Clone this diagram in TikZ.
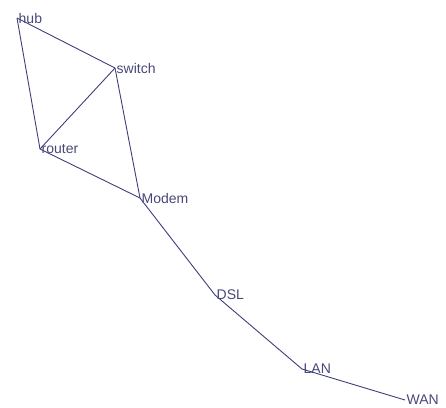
\documentclass[tikz,border=0pt]{standalone}
\usepackage{fontspec}
\setmainfont{Liberation Sans}
\definecolor{netline}{RGB}{62,62,125}
\definecolor{nettext}{RGB}{72,72,120}
\begin{document}
\begin{tikzpicture}[x=1pt,y=-1pt,
  lbl/.style={anchor=west,inner sep=1.5pt,text=nettext,font=\fontsize{14}{16}\selectfont}]

\useasboundingbox (0,0) rectangle (446,407);

\coordinate (hub) at (17,18);
\coordinate (switch) at (115,68);
\coordinate (router) at (40,149);
\coordinate (modem) at (140,198);
\coordinate (dsl) at (215,295);
\coordinate (lan) at (302,369);
\coordinate (wan) at (405,400);

\draw[netline,line width=0.9pt] (hub) -- (switch);
\draw[netline,line width=0.9pt] (hub) -- (router);
\draw[netline,line width=0.9pt] (switch) -- (router);
\draw[netline,line width=0.9pt] (switch) -- (modem);
\draw[netline,line width=0.9pt] (router) -- (modem);
\draw[netline,line width=0.9pt] (modem) -- (dsl);
\draw[netline,line width=0.9pt] (dsl) -- (lan);
\draw[netline,line width=0.9pt] (lan) -- (wan);

\node[lbl] (hubtxt) at (hub) {hub};
\node[lbl] (switchtxt) at (switch) {switch};
\node[lbl] (routertxt) at (router) {router};
\node[lbl] (modemtxt) at (modem) {Modem};
\node[lbl] (dsltxt) at (dsl) {DSL};
\node[lbl] (lantxt) at (lan) {LAN};
\node[lbl] (wantxt) at (wan) {WAN};

\end{tikzpicture}
\end{document}
